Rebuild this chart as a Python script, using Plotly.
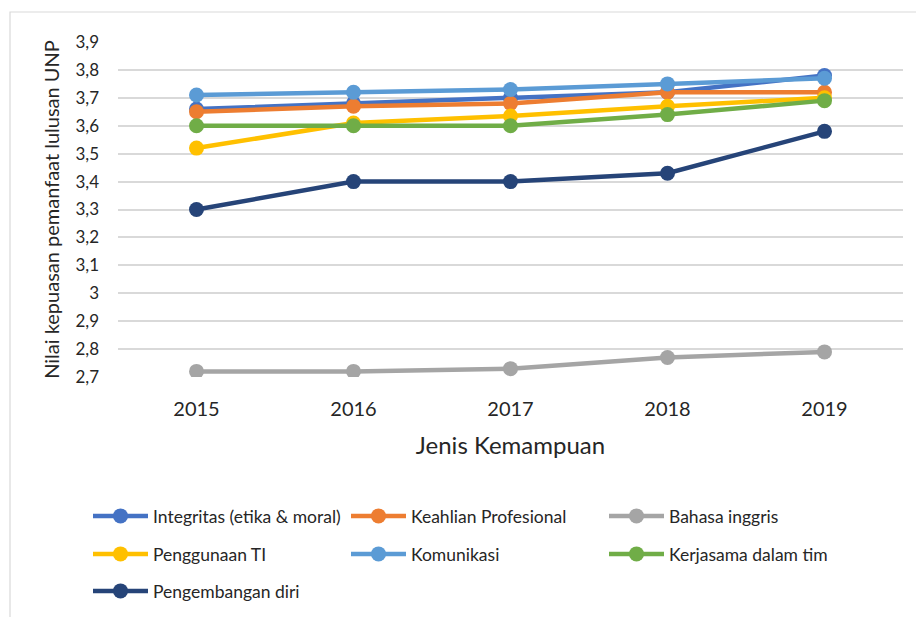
import plotly.graph_objects as go

# Survey years and satisfaction scores per competency
years = ["2015", "2016", "2017", "2018", "2019"]

integritas = [3.66, 3.68, 3.70, 3.72, 3.78]
keahlian = [3.65, 3.67, 3.68, 3.72, 3.72]
bahasa = [2.72, 2.72, 2.73, 2.77, 2.79]
penggunaan_ti = [3.52, 3.61, 3.635, 3.67, 3.70]
komunikasi = [3.71, 3.72, 3.73, 3.75, 3.77]
kerjasama = [3.60, 3.60, 3.60, 3.64, 3.69]
pengembangan = [3.30, 3.40, 3.40, 3.43, 3.58]

y_ticks = [2.7, 2.8, 2.9, 3.0, 3.1, 3.2, 3.3, 3.4, 3.5, 3.6, 3.7, 3.8, 3.9]
y_tick_text = ["2,7", "2,8", "2,9", "3", "3,1", "3,2", "3,3", "3,4", "3,5", "3,6", "3,7", "3,8", "3,9"]

series = [
    ("Integritas (etika & moral)", integritas, "#4472C4", "legend"),
    ("Keahlian Profesional", keahlian, "#ED7D31", "legend"),
    ("Bahasa inggris", bahasa, "#A5A5A5", "legend"),
    ("Penggunaan TI", penggunaan_ti, "#FFC000", "legend2"),
    ("Komunikasi", komunikasi, "#5B9BD5", "legend2"),
    ("Kerjasama dalam tim", kerjasama, "#70AD47", "legend2"),
    ("Pengembangan diri", pengembangan, "#264478", "legend3"),
]

FONT = "Lato, 'Open Sans', sans-serif"
TEXT = "#262626"

fig = go.Figure()
for name, vals, color, leg in series:
    fig.add_trace(go.Scatter(
        x=years, y=vals, name=name, mode="lines+markers",
        line=dict(color=color, width=4.5),
        marker=dict(color=color, size=15),
        legend=leg,
    ))

W, H = 916, 617
L, R, T, B = 118, 903, 42, 377


def px_x(p):
    return (p - L) / (R - L)


def px_y(p):
    return (B - p) / (B - T)


legend_common = dict(
    orientation="h", xanchor="left", yanchor="middle",
    entrywidth=188, entrywidthmode="pixels",
    font=dict(family=FONT, size=17.5, color=TEXT),
    bgcolor="rgba(0,0,0,0)", itemwidth=55,
    traceorder="normal",
)

fig.update_layout(
    width=W, height=H,
    margin=dict(l=L, r=W - R, t=T, b=H - B, autoexpand=False),
    paper_bgcolor="white", plot_bgcolor="white",
    font=dict(family=FONT, color=TEXT),
    legend=dict(x=px_x(88), y=px_y(516), **legend_common),
    legend2=dict(x=px_x(88), y=px_y(554), **legend_common),
    legend3=dict(x=px_x(88), y=px_y(591), **legend_common),
    xaxis=dict(
        type="category", range=[-0.5, 4.5], automargin=False,
        showgrid=False, zeroline=False, showline=False,
        tickfont=dict(family=FONT, size=20, color=TEXT),
        ticks="", ticklabelstandoff=18,
        title=dict(text="Jenis Kemampuan", font=dict(family=FONT, size=24, color=TEXT), standoff=18),
    ),
    yaxis=dict(
        range=[2.7, 3.9], tickvals=y_ticks, ticktext=y_tick_text, automargin=False,
        showgrid=True, gridcolor="#D9D9D9", gridwidth=1.5,
        zeroline=False, showline=False, ticks="",
        tickfont=dict(family=FONT, size=17, color=TEXT),
        ticklabelstandoff=18,
        title=dict(text="Nilai kepuasan pemanfaat lulusan UNP", font=dict(family=FONT, size=20, color=TEXT), standoff=10),
    ),
    shapes=[dict(
        type="rect", xref="paper", yref="paper",
        x0=px_x(10), x1=px_x(925), y0=px_y(630), y1=px_y(12),
        line=dict(color="#D9D9D9", width=1.2), fillcolor="rgba(0,0,0,0)", layer="below",
    )],
)

fig.write_html("out.html")
